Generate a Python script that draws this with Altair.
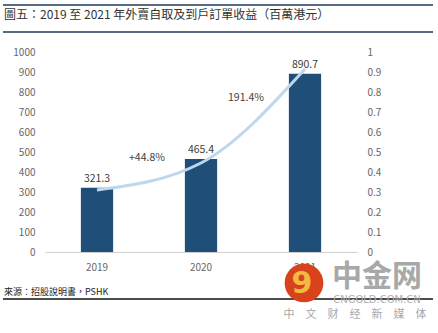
import altair as alt
import pandas as pd

# ---- data ----
years = ["2019", "2020", "2021"]
revenue = [321.3, 465.4, 890.7]
revenue_labels = ["321.3", "465.4", "890.7"]
trend = [0.31, 0.445, 0.915]          # light-blue line, right axis
growth_from = ["2019", "2020"]
growth_labels = ["+44.8%", "191.4%"]
left_ticks = [0, 100, 200, 300, 400, 500, 600, 700, 800, 900, 1000]
right_ticks = [0, 0.1, 0.2, 0.3, 0.4, 0.5, 0.6, 0.7, 0.8, 0.9, 1]

title_text = "圖五：2019 至 2021 年外賣自取及到戶訂單收益（百萬港元）"
source_text = "來源：招股說明書，PSHK"

df = pd.DataFrame({"year": years, "revenue": revenue, "label": revenue_labels, "trend": trend})
gdf = pd.DataFrame({"year": growth_from, "label": growth_labels})
one = pd.DataFrame({"a": [0]})

FONT = "Noto Sans CJK TC"
BAR = "#1f4e79"

X = alt.X("year:N", sort=years, title=None,
          scale=alt.Scale(paddingInner=0.69, paddingOuter=0.345),
          axis=alt.Axis(labels=False, ticks=False, tickSize=0,
                        domain=True, domainColor="#d0d0d0", domainWidth=1, grid=False))
YL = alt.Y("revenue:Q", title=None,
           scale=alt.Scale(domain=[0, 1000], nice=False),
           axis=alt.Axis(values=left_ticks, format="d", ticks=False, tickSize=0, domain=False,
                         grid=False, labelPadding=10))
YR = alt.Y("trend:Q", title=None,
           scale=alt.Scale(domain=[0, 1], nice=False),
           axis=alt.Axis(orient="right", values=right_ticks, format="~g", ticks=False,
                         tickSize=0, domain=False, grid=False, labelPadding=10))

base = alt.Chart(df).encode(x=X, y=YL)
bars = base.mark_bar(color=BAR)
bar_text = base.mark_text(baseline="bottom", dy=-4, font=FONT, fontSize=10.5,
                          color="#404040").encode(text="label:N")
# category labels drawn as text so the watermark can sit on top of them
x_labels = alt.Chart(df).mark_text(font=FONT, fontSize=10, color="#666666", baseline="middle").encode(
    x=X, y=alt.value(216), text="year:N")

g1 = alt.Chart(gdf.iloc[[0]]).mark_text(font=FONT, fontSize=10.5, color="#404040", dx=50).encode(
    x=X, y=alt.value(106), text="label:N")
g2 = alt.Chart(gdf.iloc[[1]]).mark_text(font=FONT, fontSize=10.5, color="#404040", dx=45).encode(
    x=X, y=alt.value(46), text="label:N")

left = alt.layer(bars, bar_text, g1, g2, x_labels)
line = alt.Chart(df).mark_line(color="#bdd7ee", strokeWidth=3, interpolate="monotone").encode(
    x=X, y=YR)

main = alt.layer(left, line).resolve_scale(y="independent")

# ---- decorations (title, source, rules, watermark) ----
def txt(t, x, y, **kw):
    return alt.Chart(one).mark_text(text=t, **kw).encode(x=alt.value(x), y=alt.value(y))

def hrule(x1, x2, y, color, w):
    return alt.Chart(one).mark_rule(color=color, strokeWidth=w).encode(
        x=alt.value(x1), x2=alt.value(x2), y=alt.value(y))

title = txt(title_text, -41, -37, font=FONT, fontSize=12, color="#333333", align="left", baseline="middle")
top_rule = hrule(-42, 388, -47, "#1f3a5a", 1.5)
title_rule = hrule(-42, 388, -20, "#1f3a5a", 1.5)
source = txt(source_text, -41, 240, font=FONT, fontSize=9, color="#222222", align="left", baseline="middle")
bottom_rule = hrule(-42, 388, 247, "#111111", 1.5)

logo = alt.Chart(one).mark_circle(color="#d9431c", opacity=1, size=1500).encode(
    x=alt.value(259), y=alt.value(231))
logo_inner = txt("9", 257, 232, font="DejaVu Sans", fontSize=30, fontWeight="bold",
                 color="#f4b942", align="center", baseline="middle")
wm1 = txt("中金网", 332, 225, font="Noto Sans CJK SC", fontSize=30, fontWeight="bold",
          color="#a8a8a8", align="center", baseline="middle")
wm2 = txt("CNGOLD.COM.CN", 332, 248, font="DejaVu Sans", fontSize=10,
          color="#b0b0b0", align="center", baseline="middle")
wm3 = txt("中\u3000文\u3000财\u3000经\u3000新\u3000媒\u3000体", 310, 263, font="Noto Sans CJK SC",
          fontSize=11, color="#a8a8a8", align="center", baseline="middle")

chart = alt.layer(
    main, title, top_rule, title_rule, source, bottom_rule, logo, logo_inner, wm1, wm2, wm3
).properties(
    width=312, height=200,
    padding={"left": 45, "top": 52, "right": 81, "bottom": 81},
    autosize="none",
).configure_axis(
    labelFont=FONT, labelFontSize=10, labelColor="#666666"
).configure_view(stroke=None)

chart.save("out.html", embed_options={"renderer": "svg", "actions": False})
